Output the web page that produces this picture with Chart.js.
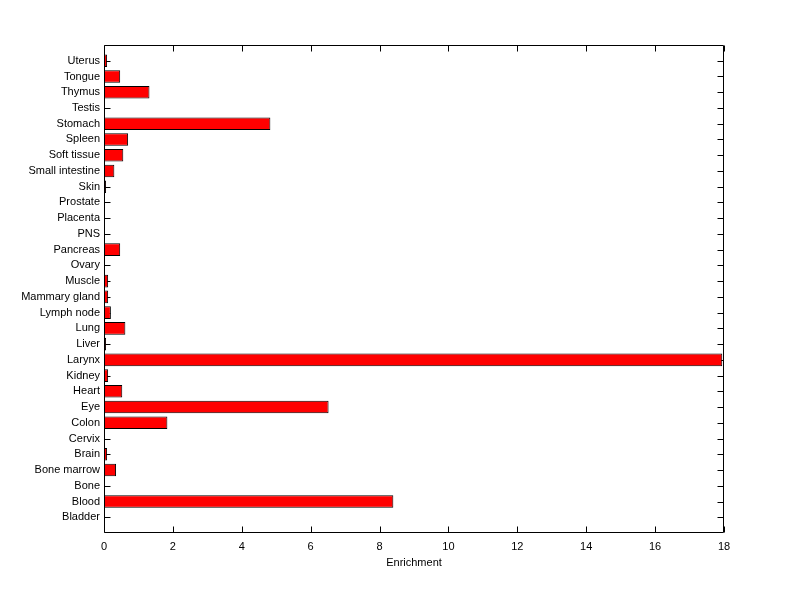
<!DOCTYPE html>
<html>
<head>
<meta charset="utf-8">
<script src="https://cdn.jsdelivr.net/npm/chart.js@4"></script>
<style>
  html, body { margin: 0; padding: 0; background: #fff; }
  #wrap { width: 800px; height: 599px; }
</style>
</head>
<body>
<div id="wrap"><canvas id="enrichChart" width="800" height="599"></canvas></div>
<script>
// tissues, bottom to top
const tissues = ["Bladder", "Blood", "Bone", "Bone marrow", "Brain", "Cervix", "Colon", "Eye", "Heart", "Kidney",
  "Larynx", "Liver", "Lung", "Lymph node", "Mammary gland", "Muscle", "Ovary", "Pancreas", "PNS", "Placenta",
  "Prostate", "Skin", "Small intestine", "Soft tissue", "Spleen", "Stomach", "Testis", "Thymus", "Tongue", "Uterus"];
const enrichment = [0, 8.4, 0, 0.35, 0.09, 0, 1.84, 6.52, 0.53, 0.12,
  17.95, 0.06, 0.62, 0.2, 0.12, 0.12, 0, 0.47, 0, 0.03,
  0, 0.06, 0.3, 0.56, 0.7, 4.83, 0, 1.32, 0.47, 0.09];
const xTicks = [0, 2, 4, 6, 8, 10, 12, 14, 16, 18];

const font = { family: "'Liberation Sans', Arial, sans-serif", size: 11 };

// matlab style box with ticks pointing in, drawn under the bars
const boxTicks = {
  id: "boxTicks",
  beforeDatasetsDraw(chart) {
    const { ctx, chartArea, scales } = chart;
    const { left, right, top, bottom } = chartArea;
    ctx.save();
    ctx.strokeStyle = "#000";
    ctx.lineWidth = 1;
    ctx.beginPath();
    const L = Math.round(left) + 0.5, R = Math.round(right) - 0.5;
    const T = Math.round(top) + 0.5, B = Math.round(bottom) - 0.5;
    ctx.rect(L, T, R - L, B - T);
    xTicks.forEach(v => {
      const px = Math.round(scales.x.getPixelForValue(v)) + 0.5;
      ctx.moveTo(px, B); ctx.lineTo(px, B - 6);
      ctx.moveTo(px, T); ctx.lineTo(px, T + 6);
    });
    tissues.forEach((t, i) => {
      const py = Math.round(scales.y.getPixelForValue(i + 1)) + 0.5;
      ctx.moveTo(L, py); ctx.lineTo(L + 6, py);
      ctx.moveTo(R, py); ctx.lineTo(R - 6, py);
    });
    ctx.stroke();
    ctx.restore();
  }
};

const ctx = document.getElementById("enrichChart").getContext("2d");
new Chart(ctx, {
  type: "bar",
  data: {
    datasets: [{
      data: enrichment.map((v, i) => ({ x: v, y: i + 1 })),
      backgroundColor: "#ff0000",
      borderColor: "#000000",
      borderWidth: 1,
      borderSkipped: false,
      barPercentage: 0.8,
      categoryPercentage: 1
    }]
  },
  options: {
    indexAxis: "y",
    responsive: false,
    animation: false,
    layout: { padding: { left: 0, top: 45, right: 76, bottom: 29 } },
    plugins: { legend: { display: false }, tooltip: { enabled: false } },
    scales: {
      x: {
        type: "linear",
        min: 0,
        max: 18,
        afterBuildTicks: s => { s.ticks = xTicks.map(v => ({ value: v })); },
        afterFit: s => { s.height = 37; },
        grid: { display: false, drawTicks: false },
        border: { display: false },
        ticks: { color: "#000", font, padding: 7, maxRotation: 0 },
        title: { display: true, text: "Enrichment", color: "#000", font, padding: { top: 2, bottom: 0 } }
      },
      y: {
        type: "linear",
        min: 0,
        max: 31,
        offset: false,
        afterBuildTicks: s => { s.ticks = tissues.map((t, i) => ({ value: i + 1 })); },
        afterFit: s => { s.width = 104; },
        grid: { display: false, drawTicks: false, offset: false },
        border: { display: false },
        ticks: { color: "#000", font, padding: 4, autoSkip: false,
          callback: v => tissues[v - 1] || "" }
      }
    }
  },
  plugins: [boxTicks]
});
</script>
</body>
</html>
